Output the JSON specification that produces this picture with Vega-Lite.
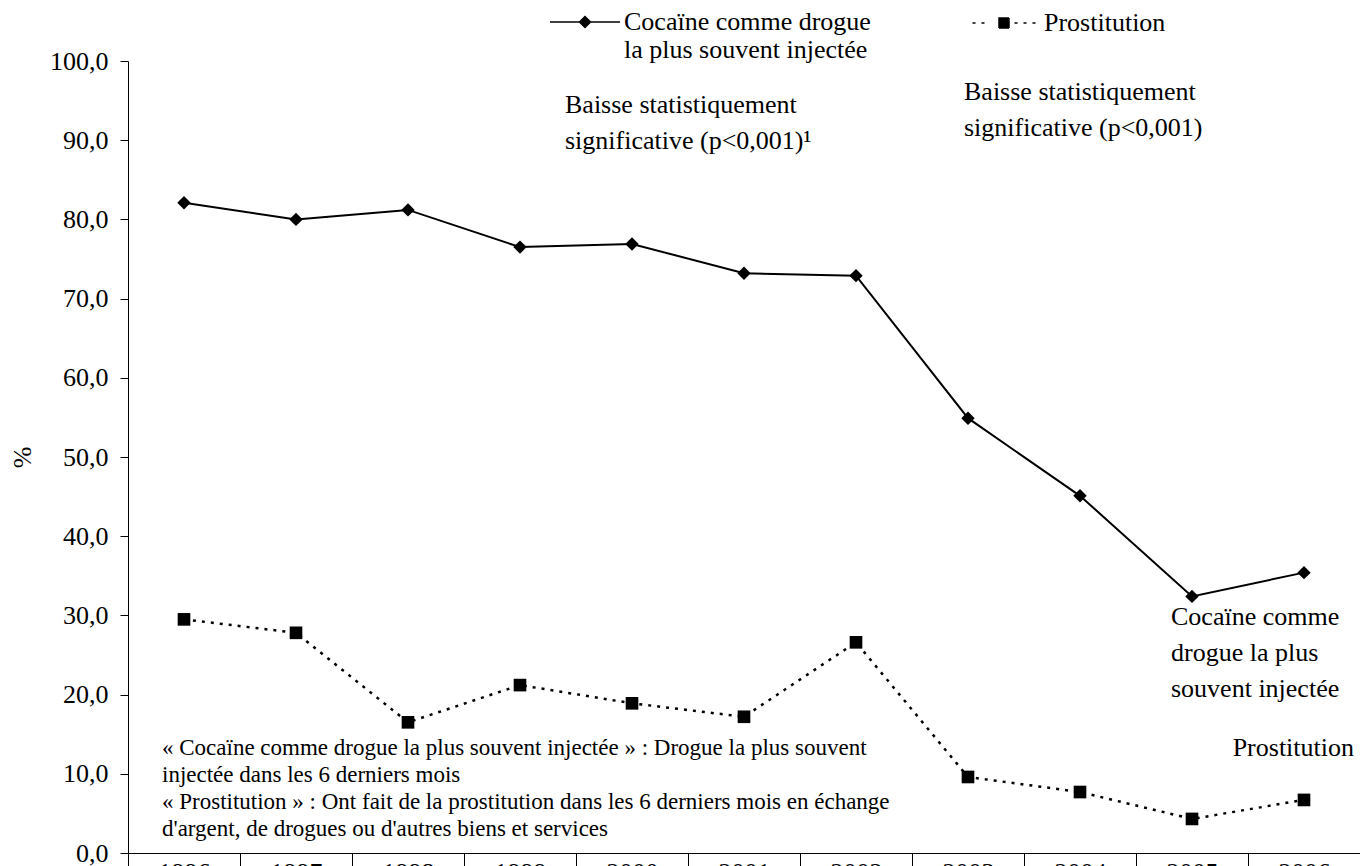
{
  "$schema": "https://vega.github.io/schema/vega-lite/v6.json",
  "width": 1232,
  "height": 792,
  "autosize": {"type": "none"},
  "padding": {"left": 128, "top": 61, "right": 0, "bottom": 13},
  "background": "white",
  "config": {
    "view": {"stroke": null},
    "font": "Liberation Serif",
    "axis": {
      "labelFont": "Liberation Serif",
      "titleFont": "Liberation Serif",
      "labelFontSize": 26,
      "titleFontSize": 26,
      "titleFontWeight": "normal",
      "labelColor": "black",
      "titleColor": "black",
      "domainColor": "black",
      "tickColor": "black",
      "domainWidth": 1,
      "tickWidth": 1,
      "grid": false
    },
    "legend": {
      "labelFont": "Liberation Serif",
      "labelFontSize": 26,
      "labelColor": "black",
      "labelLimit": 0,
      "title": null,
      "padding": 0,
      "symbolSize": 100
    }
  },
  "data": {
    "values": [
      {"year": "1996", "series": "coc", "value": 82.1},
      {"year": "1997", "series": "coc", "value": 80.0},
      {"year": "1998", "series": "coc", "value": 81.2},
      {"year": "1999", "series": "coc", "value": 76.5},
      {"year": "2000", "series": "coc", "value": 76.9},
      {"year": "2001", "series": "coc", "value": 73.2},
      {"year": "2002", "series": "coc", "value": 72.9},
      {"year": "2003", "series": "coc", "value": 54.9},
      {"year": "2004", "series": "coc", "value": 45.1},
      {"year": "2005", "series": "coc", "value": 32.4},
      {"year": "2006", "series": "coc", "value": 35.4},
      {"year": "1996", "series": "pro", "value": 29.5},
      {"year": "1997", "series": "pro", "value": 27.8},
      {"year": "1998", "series": "pro", "value": 16.5},
      {"year": "1999", "series": "pro", "value": 21.2},
      {"year": "2000", "series": "pro", "value": 18.9},
      {"year": "2001", "series": "pro", "value": 17.2},
      {"year": "2002", "series": "pro", "value": 26.6},
      {"year": "2003", "series": "pro", "value": 9.6},
      {"year": "2004", "series": "pro", "value": 7.7},
      {"year": "2005", "series": "pro", "value": 4.3},
      {"year": "2006", "series": "pro", "value": 6.7}
    ]
  },
  "encoding": {
    "x": {
      "field": "year",
      "type": "ordinal",
      "scale": {"type": "band", "paddingInner": 0, "paddingOuter": 0, "domain": ["1996","1997","1998","1999","2000","2001","2002","2003","2004","2005","2006"]},
      "axis": {"title": null, "labelAngle": 0, "tickBand": "extent", "tickSize": 20, "labelPadding": -14, "labelBaseline": "top"}
    },
    "y": {
      "field": "value",
      "type": "quantitative",
      "scale": {"domain": [0, 100], "nice": false, "zero": true},
      "axis": {
        "title": "%",
        "values": [0,10,20,30,40,50,60,70,80,90,100],
        "labelExpr": "replace(format(datum.value, '.1f'), '.', ',')",
        "tickSize": 8,
        "labelPadding": 12,
        "titlePadding": 14
      }
    }
  },
  "layer": [
    {
      "transform": [{"filter": "datum.series == 'coc'"}],
      "mark": {"type": "line", "color": "black", "strokeWidth": 2}
    },
    {
      "transform": [{"filter": "datum.series == 'coc'"}],
      "mark": {"type": "point", "shape": "diamond", "filled": true, "color": "black", "size": 180, "opacity": 1}
    },
    {
      "transform": [{"filter": "datum.series == 'pro'"}],
      "mark": {"type": "line", "color": "black", "strokeWidth": 2.5, "strokeDash": [3, 6]}
    },
    {
      "transform": [{"filter": "datum.series == 'pro'"}],
      "mark": {"type": "point", "shape": "square", "filled": true, "color": "black", "size": 160, "opacity": 1}
    },
    {
      "transform": [{"filter": "datum.series == 'none'"}],
      "mark": {"type": "point", "filled": true, "fill": "black", "stroke": "black", "strokeWidth": 2, "opacity": 1},
      "encoding": {
        "shape": {
          "field": "series",
          "type": "nominal",
          "scale": {
            "domain": ["coc"],
            "range": ["M-7,0L7,0M0,-1.1L1.1,0L0,1.1L-1.1,0Z"]
          },
          "legend": {
            "orient": "none",
            "legendX": 444,
            "legendY": -52,
            "labelOffset": 26,
            "labelExpr": "['Cocaïne comme drogue', 'la plus souvent injectée']",
            "encode": {
              "symbols": {"update": {"fill": {"value": "black"}, "stroke": {"value": "black"}, "strokeWidth": {"value": 2}, "opacity": {"value": 1}}},
              "labels": {"update": {"dy": {"value": 15}}}
            }
          }
        }
      }
    },
    {
      "transform": [{"filter": "datum.series == 'none'"}],
      "mark": {"type": "point", "filled": true, "fill": "black", "stroke": "black", "strokeWidth": 2, "opacity": 1},
      "encoding": {
        "strokeDash": {
          "field": "series",
          "type": "nominal",
          "scale": {"domain": ["pro"], "range": [[1, 0]]},
          "legend": {
            "orient": "none",
            "legendX": 863,
            "legendY": -51,
            "labelOffset": 27,
            "symbolType": "M-6.3,0L-5.7,0M-4.5,0L-3.9,0M-1,-1L1,-1L1,1L-1,1ZM2.1,0L2.7,0M3.9,0L4.5,0M5.7,0L6.3,0",
            "labelExpr": "'Prostitution'",
            "encode": {
              "symbols": {"update": {"fill": {"value": "black"}, "stroke": {"value": "black"}, "strokeWidth": {"value": 2}, "opacity": {"value": 1}, "strokeDash": {"value": [1, 0]}}}
            }
          }
        }
      }
    },
    {
      "data": {"values": [
        {"year": "1999", "value": 94.4, "label": "Baisse statistiquement"},
        {"year": "1999", "value": 89.9, "label": "significative (p<0,001)¹"}
      ]},
      "mark": {"type": "text", "align": "left", "baseline": "middle", "dx": 45, "fontSize": 26, "font": "Liberation Serif", "color": "black"},
      "encoding": {"text": {"field": "label", "type": "nominal"}}
    },
    {
      "data": {"values": [
        {"year": "2003", "value": 96.1, "label": "Baisse statistiquement"},
        {"year": "2003", "value": 91.5, "label": "significative (p<0,001)"}
      ]},
      "mark": {"type": "text", "align": "left", "baseline": "middle", "dx": -4, "fontSize": 26, "font": "Liberation Serif", "color": "black"},
      "encoding": {"text": {"field": "label", "type": "nominal"}}
    },
    {
      "data": {"values": [
        {"year": "2005", "value": 29.8, "label": "Cocaïne comme"},
        {"year": "2005", "value": 25.25, "label": "drogue la plus"},
        {"year": "2005", "value": 20.7, "label": "souvent injectée"}
      ]},
      "mark": {"type": "text", "align": "left", "baseline": "middle", "dx": -21, "fontSize": 26, "font": "Liberation Serif", "color": "black"},
      "encoding": {"text": {"field": "label", "type": "nominal"}}
    },
    {
      "data": {"values": [
        {"year": "2006", "value": 13.3, "label": "Prostitution"}
      ]},
      "mark": {"type": "text", "align": "right", "baseline": "middle", "dx": 50, "fontSize": 26, "font": "Liberation Serif", "color": "black"},
      "encoding": {"text": {"field": "label", "type": "nominal"}}
    },
    {
      "data": {"values": [
        {"year": "1996", "value": 13.26, "label": "« Cocaïne comme drogue la plus souvent injectée » : Drogue la plus souvent"},
        {"year": "1996", "value": 9.85, "label": "injectée dans les 6 derniers mois"},
        {"year": "1996", "value": 6.44, "label": "« Prostitution » : Ont fait de la prostitution dans les 6 derniers mois en échange"},
        {"year": "1996", "value": 3.03, "label": "d'argent, de drogues ou d'autres biens et services"}
      ]},
      "mark": {"type": "text", "align": "left", "baseline": "middle", "dx": -22, "fontSize": 23, "font": "Liberation Serif", "color": "black"},
      "encoding": {"text": {"field": "label", "type": "nominal"}}
    }
  ]
}
